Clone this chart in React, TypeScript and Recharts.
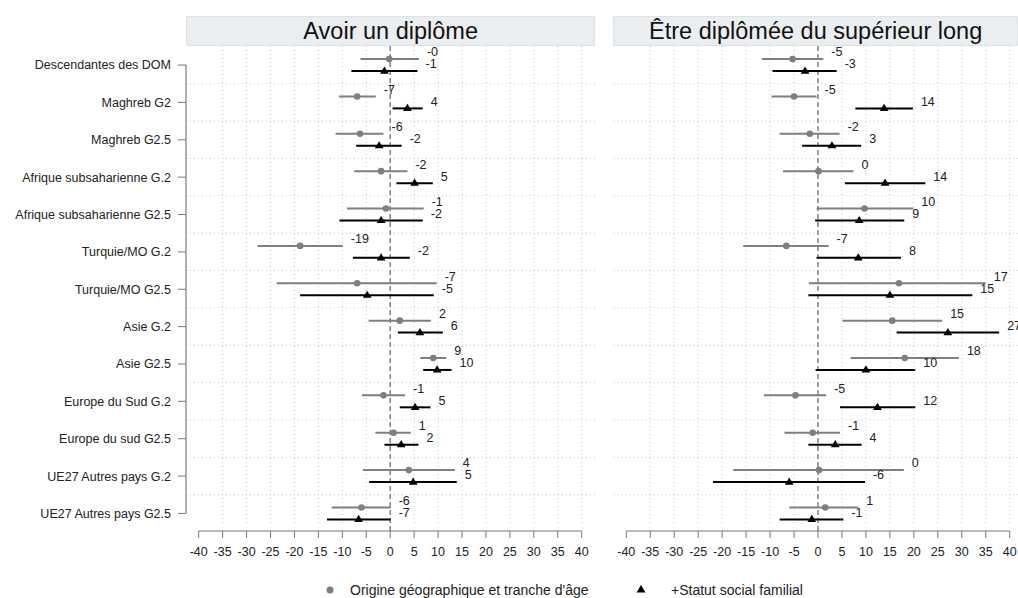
import React from 'react';
import { ScatterChart, Scatter, XAxis, YAxis, ReferenceLine, ErrorBar } from 'recharts';

const categories = [
  'Descendantes des DOM',
  'Maghreb G2',
  'Maghreb G2.5',
  'Afrique subsaharienne G.2',
  'Afrique subsaharienne G2.5',
  'Turquie/MO G.2',
  'Turquie/MO G2.5',
  'Asie G.2',
  'Asie G2.5',
  'Europe du Sud G.2',
  'Europe du sud G2.5',
  'UE27 Autres pays G.2',
  'UE27 Autres pays G2.5',
];

const xTicks = [-40, -35, -30, -25, -20, -15, -10, -5, 0, 5, 10, 15, 20, 25, 30, 35, 40];

// Avoir un diplôme
const dipBase = [-0.2, -6.9, -6.3, -1.9, -0.9, -18.8, -6.9, 2.0, 9.0, -1.4, 0.7, 3.9, -6.0];
const dipBaseLo = [-6.2, -10.7, -11.4, -7.5, -9.0, -27.7, -23.7, -4.5, 6.3, -5.9, -3.1, -5.7, -12.2];
const dipBaseHi = [6.0, -3.0, -1.4, 3.6, 7.0, -9.9, 9.7, 8.5, 11.7, 3.1, 4.3, 13.5, 0.1];
const dipBaseLabels = ['-0', '-7', '-6', '-2', '-1', '-19', '-7', '2', '9', '-1', '1', '4', '-6'];
const dipSoc = [-1.2, 3.6, -2.3, 5.1, -1.9, -1.9, -4.8, 6.2, 9.8, 5.2, 2.3, 4.8, -6.6];
const dipSocLo = [-8.1, 0.5, -7.1, 1.3, -10.6, -7.8, -18.8, 1.6, 6.9, 2.0, -1.2, -4.4, -13.2];
const dipSocHi = [5.7, 6.8, 2.4, 8.9, 6.8, 4.1, 9.1, 11.0, 12.8, 8.4, 5.9, 13.9, 0.1];
const dipSocLabels = ['-1', '4', '-2', '5', '-2', '-2', '-5', '6', '10', '5', '2', '5', '-7'];

// Être diplômée du supérieur long
const supBase = [-5.3, -5.0, -1.7, 0.1, 9.7, -6.6, 16.9, 15.5, 18.1, -4.7, -1.1, 0.2, 1.5];
const supBaseLo = [-11.7, -9.7, -8.0, -7.3, -0.3, -15.6, -1.9, 5.1, 6.8, -11.3, -7.0, -17.7, -6.0];
const supBaseHi = [1.1, -0.3, 4.5, 7.4, 19.9, 2.2, 35.0, 25.9, 29.4, 1.7, 4.6, 17.9, 8.4];
const supBaseLabels = ['-5', '-5', '-2', '0', '10', '-7', '17', '15', '18', '-5', '-1', '0', '1'];
const supSoc = [-2.7, 13.8, 2.9, 14.0, 8.6, 8.4, 15.0, 27.1, 10.0, 12.4, 3.6, -6.0, -1.3];
const supSocLo = [-9.5, 7.8, -3.3, 5.6, -0.6, -0.3, -2.0, 16.4, -0.5, 4.6, -2.0, -21.9, -8.0];
const supSocHi = [3.9, 19.8, 9.0, 22.4, 18.0, 17.3, 32.2, 37.8, 20.3, 20.3, 9.1, 9.8, 5.3];
const supSocLabels = ['-3', '14', '3', '14', '9', '8', '15', '27', '10', '12', '4', '-6', '-1'];

const GREY = '#7f7f7f';
const AXIS = '#7a7a7a';
const GRID = '#c4c4c4';
const TEXT = '#222';
const FONT = '"Liberation Sans", Arial, sans-serif';
const ROW_OFF = 0.16;
const Y_DOMAIN = [-0.51, 12.47];
const GRID_BOTTOM = 12.3;
const CHART_H = 565;

const Dot = (p: any) => <circle cx={p.cx} cy={p.cy} r={3.3} fill={GREY} />;
const Tri = (p: any) => (
  <path d={`M${p.cx},${p.cy - 4.6} L${p.cx + 4.4},${p.cy + 2.6} L${p.cx - 4.4},${p.cy + 2.6} Z`} fill="#000" />
);
const Lab = (p: any) => (
  <text x={p.cx + 8} y={p.cy - 7} dy="0.35em" fontSize={12.5} fill={TEXT} fontFamily={FONT}>
    {p.payload.label}
  </text>
);

const rows = (est: number[], lo: number[], hi: number[], off: number) =>
  categories.map((_, i) => ({ x: est[i], y: i + off, err: [est[i] - lo[i], hi[i] - est[i]] }));
const labels = (hi: number[], txt: string[], off: number) =>
  categories.map((_, i) => ({ x: hi[i], y: i + off, label: txt[i] }));

const Panel = ({ left, width, margin, domain, title, showCats, base, baseLo, baseHi, baseLab, soc, socLo, socHi, socLab }: any) => {
  const plotLeft = left + margin.left + (showCats ? 186 : 0);
  const plotWidth = width - margin.left - margin.right - (showCats ? 186 : 0);
  return (
    <>
      <div
        style={{
          position: 'absolute', left: plotLeft, top: 16, width: plotWidth, height: 30,
          background: '#eaeef1', border: '1px solid #dce3e7', boxSizing: 'border-box',
          textAlign: 'center', fontSize: 23.5, lineHeight: '28px', color: '#111', fontFamily: FONT,
        }}
      >
        {title}
      </div>
      <div style={{ position: 'absolute', left, top: 0 }}>
        <ScatterChart width={width} height={CHART_H} margin={margin}>
          <XAxis
            type="number" dataKey="x" domain={domain} ticks={xTicks} interval={0}
            axisLine={false} tickLine={{ stroke: AXIS }} tickSize={7} tickMargin={9} height={34}
            tick={{ fill: TEXT, fontSize: 12.5, fontFamily: FONT }}
          />
          <YAxis
            type="number" dataKey="y" domain={Y_DOMAIN} reversed ticks={categories.map((_, i) => i)} interval={0}
            tickFormatter={(v: number) => categories[v]} hide={!showCats} width={186}
            axisLine={false} tickLine={{ stroke: AXIS }} tickSize={8} tickMargin={7}
            tick={{ fill: TEXT, fontSize: 12.5, fontFamily: FONT }}
          />
          {categories.slice(1).map((_, i) => (
            <ReferenceLine key={'h' + i} y={i + 0.5} stroke={GRID} strokeDasharray="1 3" />
          ))}
          {xTicks.filter((t) => t !== -40 && t !== 0).map((t) => (
            <ReferenceLine
              key={'v' + t} ifOverflow="visible" stroke={GRID} strokeDasharray="1 3"
              segment={[{ x: t, y: Y_DOMAIN[0] }, { x: t, y: GRID_BOTTOM }]}
            />
          ))}
          <ReferenceLine x={0} stroke="#6f6f6f" strokeWidth={1.3} strokeDasharray="5 3" />
          <ReferenceLine
            ifOverflow="visible" stroke={AXIS} strokeWidth={1.2}
            segment={[{ x: xTicks[0], y: Y_DOMAIN[1] }, { x: xTicks[xTicks.length - 1], y: Y_DOMAIN[1] }]}
          />
          {showCats && (
            <ReferenceLine
              ifOverflow="visible" stroke={AXIS} strokeWidth={1.2}
              segment={[{ x: domain[0], y: 0 }, { x: domain[0], y: categories.length - 1 }]}
            />
          )}
          <Scatter data={rows(base, baseLo, baseHi, -ROW_OFF)} shape={Dot} isAnimationActive={false}>
            <ErrorBar dataKey="err" direction="x" width={0} stroke={GREY} strokeWidth={2} />
          </Scatter>
          <Scatter data={rows(soc, socLo, socHi, ROW_OFF)} shape={Tri} isAnimationActive={false}>
            <ErrorBar dataKey="err" direction="x" width={0} stroke="#000" strokeWidth={2} />
          </Scatter>
          <Scatter data={labels(baseHi, baseLab, -ROW_OFF)} shape={Lab} isAnimationActive={false} />
          <Scatter data={labels(socHi, socLab, ROW_OFF)} shape={Lab} isAnimationActive={false} />
        </ScatterChart>
      </div>
    </>
  );
};

export default function App() {
  return (
    <div
      style={{
        position: 'absolute', left: 0, top: 0, width: 1018, height: 598, overflow: 'hidden',
        background: '#fff', fontFamily: FONT,
      }}
    >
      <Panel
        left={0} width={604} margin={{ top: 46, right: 8.7, bottom: 0, left: 0 }} domain={[-42.65, 42.84]}
        title="Avoir un diplôme" showCats
        base={dipBase} baseLo={dipBaseLo} baseHi={dipBaseHi} baseLab={dipBaseLabels}
        soc={dipSoc} socLo={dipSocLo} socHi={dipSocHi} socLab={dipSocLabels}
      />
      <Panel
        left={604} width={414} margin={{ top: 46, right: 0, bottom: 0, left: 9.3 }} domain={[-42.71, 41.73]}
        title="Être diplômée du supérieur long" showCats={false}
        base={supBase} baseLo={supBaseLo} baseHi={supBaseHi} baseLab={supBaseLabels}
        soc={supSoc} socLo={supSocLo} socHi={supSocHi} socLab={supSocLabels}
      />
      {/* legend */}
      <svg style={{ position: 'absolute', left: 0, top: 580 }} width={1018} height={18}>
        <circle cx={330} cy={10} r={3.5} fill={GREY} />
        <path d="M641,5 L645.5,12.5 L636.5,12.5 Z" fill="#000" />
      </svg>
      <div style={{ position: 'absolute', left: 350, top: 581, fontSize: 14, lineHeight: '18px', color: TEXT }}>
        Origine géographique et tranche d'âge
      </div>
      <div style={{ position: 'absolute', left: 671, top: 581, fontSize: 14, lineHeight: '18px', color: TEXT }}>
        +Statut social familial
      </div>
    </div>
  );
}
